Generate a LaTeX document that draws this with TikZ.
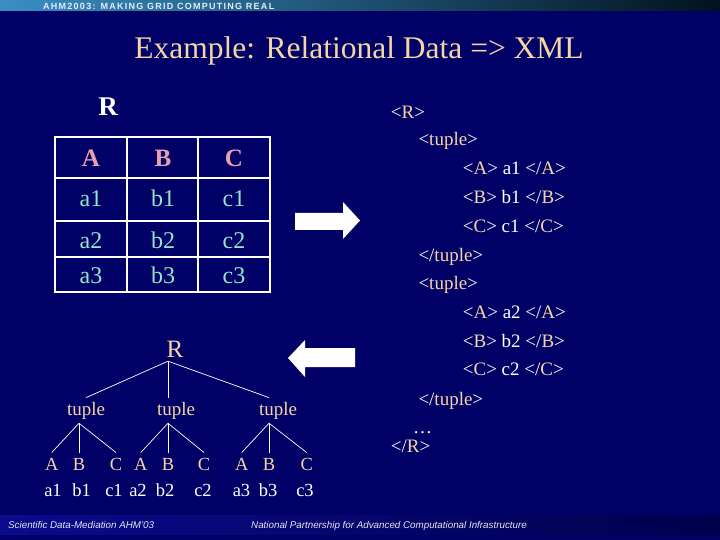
\documentclass[tikz,border=0pt]{standalone}
\usepackage{fontspec}
\setmainfont{Liberation Serif}
\setsansfont{Liberation Sans}
\usetikzlibrary{positioning}
\definecolor{slide}{HTML}{000066}
\definecolor{peach}{HTML}{F5D5A5}
\definecolor{hdr}{HTML}{E8A0B0}
\definecolor{val}{HTML}{90E8C8}
\definecolor{barl}{HTML}{3A8EC4}
\definecolor{barm}{HTML}{155480}
\definecolor{bard}{HTML}{02121E}
\definecolor{footl}{HTML}{0A0A8C}
\definecolor{footd}{HTML}{00004C}
\newcommand{\xtag}[1]{<\textcolor{peach}{#1}>}
\newcommand{\xend}[1]{</\textcolor{peach}{#1}>}

\begin{document}
\begin{tikzpicture}[x=1pt,y=-1pt,
    hd/.style={anchor=base,inner sep=0pt,text=hdr,font=\fontsize{25}{25}\selectfont\bfseries},
    cell/.style={anchor=base,inner sep=0pt,text=val,font=\fontsize{24}{24}\selectfont},
    tnode/.style={anchor=base,inner sep=4pt,text=peach,font=\fontsize{19}{19}\selectfont},
    leaf/.style={anchor=base,inner sep=5pt,text=peach,font=\fontsize{18.5}{18.5}\selectfont},
    leafval/.style={anchor=base,inner sep=0pt,text=white,font=\fontsize{18.5}{18.5}\selectfont},
    xml/.style={anchor=base west,inner sep=0pt,text=white,font=\fontsize{19}{19}\selectfont},
    grid/.style={draw=white,line width=1.3pt},
    branch/.style={draw=white,line width=0.7pt},
    block/.style={fill=white},
]
\useasboundingbox (0,0) rectangle (720,540);
\fill[slide] (0,0) rectangle (720,540);

% Header and footer bands
\shade[left color=barl,middle color=barm,right color=bard] (0,0) rectangle (720,11);
\node[anchor=base west,inner sep=0pt,text=white!85!barl,font=\sffamily\bfseries\fontsize{9}{9}\selectfont\addfontfeature{LetterSpace=14}] (banner) at (43,9.5) {AHM2003: MAKING GRID COMPUTING REAL};
\shade[left color=footl,right color=footd] (0,515) rectangle (720,534);
\node[anchor=base west,inner sep=0pt,text=white!90!slide,font=\sffamily\itshape\fontsize{9.8}{9.8}\selectfont] (foot1) at (8,528.5) {Scientific Data-Mediation AHM'03};
\node[anchor=base west,inner sep=0pt,text=white!90!slide,font=\sffamily\itshape\fontsize{9.8}{9.8}\selectfont] (foot2) at (251,528.5) {National Partnership for Advanced Computational Infrastructure};

% Title
\node[anchor=base,inner sep=0pt,text=peach,font=\fontsize{31.5}{31.5}\selectfont] (title) at (359,59) {Example: Relational Data => XML};

% Relation R as a table
\node[anchor=base,inner sep=0pt,text=white,font=\fontsize{27}{27}\selectfont\bfseries] (rel) at (108,116) {R};
\draw[grid] (55,137) rectangle (270,292);
\draw[grid] (127,137) -- (127,292);
\draw[grid] (198,137) -- (198,292);
\draw[grid] (55,178) -- (270,178);
\draw[grid] (55,221) -- (270,221);
\draw[grid] (55,257) -- (270,257);
\node[hd] (hA) at (91,167) {A};
\node[hd] (hB) at (163,167) {B};
\node[hd] (hC) at (234,167) {C};
\node[cell] (a1) at (91,206.7) {a1};
\node[cell] (b1) at (163,206.7) {b1};
\node[cell] (c1) at (234,206.7) {c1};
\node[cell] (a2) at (91,248.3) {a2};
\node[cell] (b2) at (163,248.3) {b2};
\node[cell] (c2) at (234,248.3) {c2};
\node[cell] (a3) at (91,283.3) {a3};
\node[cell] (b3) at (163,283.3) {b3};
\node[cell] (c3) at (234,283.3) {c3};

% Block arrows
\fill[block] (295,213) -- (343,213) -- (343,202) -- (360,220.5) -- (343,239) -- (343,230) -- (295,230) -- cycle;
\fill[block] (355,348) -- (305,348) -- (305,340) -- (288,358) -- (305,377) -- (305,367) -- (355,367) -- cycle;

% Relation R as a tree
\node[anchor=base,inner sep=4pt,text=peach,font=\fontsize{25}{25}\selectfont] (rt) at (175,357) {R};
\node[tnode] (tp1) at (86,415) {tuple};
\node[tnode] (tp2) at (176,415) {tuple};
\node[tnode] (tp3) at (278,415) {tuple};

\node[leaf] (la1) at (51.7,470) {A};
\node[leaf] (lb1) at (79,470) {B};
\node[leaf] (lc1) at (116,470) {C};
\node[leaf] (la2) at (140.7,470) {A};
\node[leaf] (lb2) at (168,470) {B};
\node[leaf] (lc2) at (204,470) {C};
\node[leaf] (la3) at (241.7,470) {A};
\node[leaf] (lb3) at (269,470) {B};
\node[leaf] (lc3) at (306.7,470) {C};

\draw[branch] (rt.south -| lb2) -- (tp1.north);
\draw[branch] (rt.south -| lb2) -- (tp2.north -| lb2);
\draw[branch] (rt.south -| lb2) -- (tp3.north -| lb3);
\draw[branch] (tp1.south -| lb1) -- (la1.north);
\draw[branch] (tp1.south -| lb1) -- (lb1.north);
\draw[branch] (tp1.south -| lb1) -- (lc1.north);
\draw[branch] (tp2.south -| lb2) -- (la2.north);
\draw[branch] (tp2.south -| lb2) -- (lb2.north);
\draw[branch] (tp2.south -| lb2) -- (lc2.north);
\draw[branch] (tp3.south -| lb3) -- (la3.north);
\draw[branch] (tp3.south -| lb3) -- (lb3.north);
\draw[branch] (tp3.south -| lb3) -- (lc3.north);

\node[leafval] (va1) at (53,496.7) {a1};
\node[leafval] (vb1) at (81.7,496.7) {b1};
\node[leafval] (vc1) at (114,496.7) {c1};
\node[leafval] (va2) at (138,496.7) {a2};
\node[leafval] (vb2) at (165,496.7) {b2};
\node[leafval] (vc2) at (203,496.7) {c2};
\node[leafval] (va3) at (241.5,496.7) {a3};
\node[leafval] (vb3) at (268,496.7) {b3};
\node[leafval] (vc3) at (305,496.7) {c3};

% XML document
\node[xml] (x1) at (390.7,119) {\xtag{R}};
\node[xml] (x2) at (418.3,146) {\xtag{tuple}};
\node[xml] (x3) at (462.7,175) {\xtag{A} a1 \xend{A}};
\node[xml] (x4) at (462.7,204) {\xtag{B} b1 \xend{B}};
\node[xml] (x5) at (462.7,232.7) {\xtag{C} c1 \xend{C}};
\node[xml] (x6) at (418.3,261) {\xend{tuple}};
\node[xml] (x7) at (418.3,289.5) {\xtag{tuple}};
\node[xml] (x8) at (462.7,318) {\xtag{A} a2 \xend{A}};
\node[xml] (x9) at (462.7,347) {\xtag{B} b2 \xend{B}};
\node[xml] (x10) at (462.7,375.7) {\xtag{C} c2 \xend{C}};
\node[xml] (x11) at (418.3,405) {\xend{tuple}};
\node[xml] (x12) at (413,433) {…};
\node[xml] (x13) at (390.7,452.7) {\xend{R}};
\end{tikzpicture}
\end{document}
